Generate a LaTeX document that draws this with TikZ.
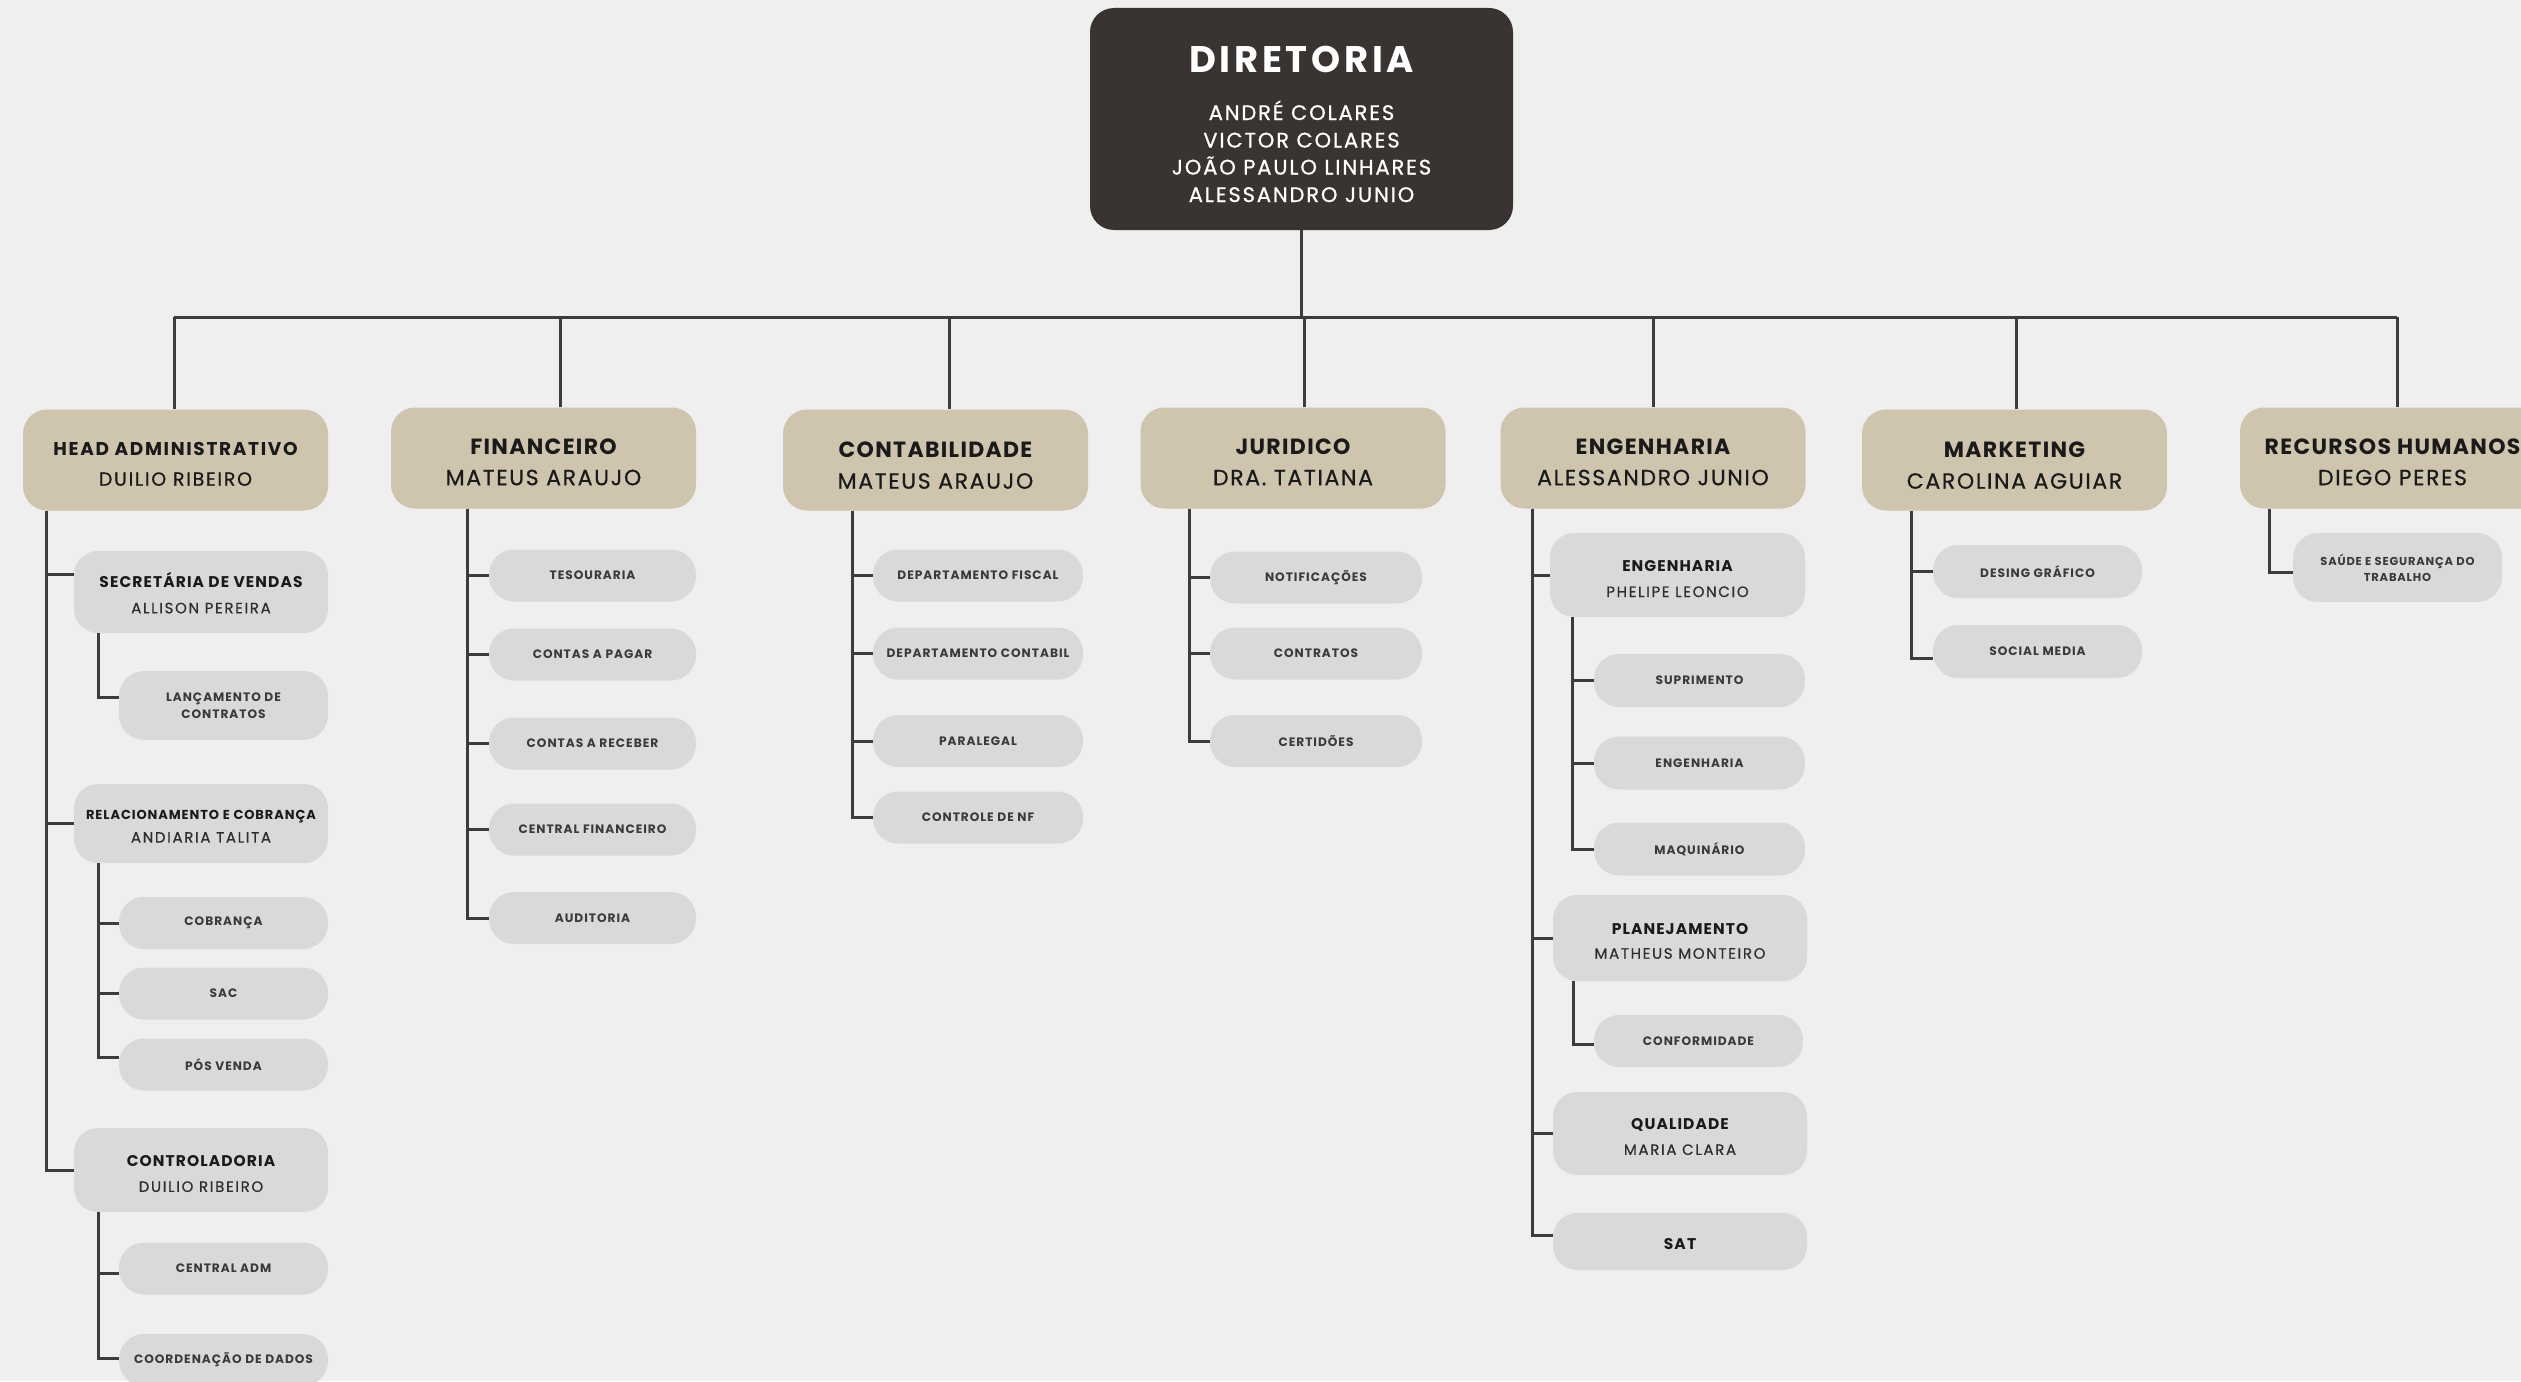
\documentclass[tikz,border=0pt]{standalone}
\usepackage{fontspec}
\setmainfont{Poppins}[LetterSpace=4]
\definecolor{bgc}{HTML}{EFEFEF}
\definecolor{dirc}{HTML}{393432}
\definecolor{tanc}{HTML}{CFC4AE}
\definecolor{grc}{HTML}{D9D9D9}
\definecolor{linec}{HTML}{3C3C3C}
\definecolor{txtc}{HTML}{1A1A1A}
\definecolor{subc}{HTML}{2E2E2E}
\definecolor{leafc}{HTML}{3A3A3A}
% text placed at a baseline, shifted from the centre of a named box (positive = up)
\newcommand\ocTxt[4]{\node[#1,anchor=base,inner sep=0pt] at ([yshift=#3]#2.center) {#4};}
\begin{document}
\begin{tikzpicture}[x=1pt,y=-1pt,
  conn/.style={draw=linec,line width=3pt},
  dirbox/.style={fill=dirc,minimum width=423pt,minimum height=222pt,
    rounded corners=24pt,inner sep=0pt},
  headbox/.style={fill=tanc,minimum width=305pt,minimum height=101pt,
    rounded corners=24pt,inner sep=0pt},
  subbox/.style={fill=grc,minimum width=254pt,rounded corners=24pt,inner sep=0pt},
  leafbox/.style={fill=grc,text=leafc,minimum width=209pt,minimum height=52pt,
    rounded corners=25pt,inner sep=0pt,align=center,
    font=\fontsize{12.2}{17}\selectfont\bfseries\addfontfeature{LetterSpace=8}},
  dt/.style={text=white,font=\fontsize{37}{37}\selectfont\bfseries\addfontfeature{LetterSpace=10}},
  dn/.style={text=white,font=\fontsize{21}{21}\selectfont\addfontfeature{LetterSpace=9,FakeBold=0.8}},
  ht/.style={text=txtc,font=\fontsize{22}{22}\selectfont\bfseries\addfontfeature{LetterSpace=6}},
  hn/.style={text=txtc,font=\fontsize{22}{22}\selectfont\addfontfeature{LetterSpace=7.5,FakeBold=0.6}},
  hta/.style={text=txtc,font=\fontsize{18.5}{18.5}\selectfont\bfseries\addfontfeature{LetterSpace=9}},
  hna/.style={text=txtc,font=\fontsize{19}{19}\selectfont\addfontfeature{LetterSpace=9,FakeBold=0.6}},
  st/.style={text=txtc,font=\fontsize{15.5}{15.5}\selectfont\bfseries\addfontfeature{LetterSpace=7}},
  sts/.style={text=txtc,font=\fontsize{13}{13}\selectfont\bfseries\addfontfeature{LetterSpace=7}},
  sn/.style={text=subc,font=\fontsize{15}{15}\selectfont\addfontfeature{LetterSpace=11,FakeBold=0.6}},
]
\fill[bgc] (0,0) rectangle (2521,1381);
\useasboundingbox (0,0) rectangle (2521,1381);
\clip (0,0) rectangle (2521,1381);

% ---------------- boxes
\node[dirbox] (dir) at (1301.5,119) {};
\node[headbox] (hA) at (175.5,460) {};
\node[headbox] (hF) at (543.5,458) {};
\node[headbox] (hC) at (935.5,460) {};
\node[headbox] (hJ) at (1293,458) {};
\node[headbox] (hE) at (1653,458) {};
\node[headbox] (hM) at (2014.5,460) {};
\node[headbox] (hR) at (2392.5,458) {};

% HEAD ADMINISTRATIVO
\node[subbox,minimum height=82pt] (sec) at (201,592) {};
\node[leafbox,minimum height=69pt] (lanc) at (223.5,705.5) {LANÇAMENTO DE\\CONTRATOS};
\node[subbox,minimum height=79pt] (rel) at (201,823.5) {};
\node[leafbox] (cob) at (223.5,923) {COBRANÇA};
\node[leafbox] (sac) at (223.5,993.5) {SAC};
\node[leafbox] (pos) at (223.5,1064.5) {PÓS VENDA};
\node[subbox,minimum height=84pt] (ctrl) at (201,1170) {};
\node[leafbox] (cadm) at (223.5,1268.5) {CENTRAL ADM};
\node[leafbox] (coord) at (223.5,1360) {COORDENAÇÃO DE DADOS};

% FINANCEIRO
\node[leafbox,minimum width=207pt] (tes) at (592.5,575.5) {TESOURARIA};
\node[leafbox,minimum width=207pt] (cpag) at (592.5,654.5) {CONTAS A PAGAR};
\node[leafbox,minimum width=207pt] (crec) at (592.5,743.5) {CONTAS A RECEBER};
\node[leafbox,minimum width=207pt] (cfin) at (592.5,829.5) {CENTRAL FINANCEIRO};
\node[leafbox,minimum width=207pt] (aud) at (592.5,918) {AUDITORIA};

% CONTABILIDADE
\node[leafbox,minimum width=210pt] (fisc) at (978,575.5) {DEPARTAMENTO FISCAL};
\node[leafbox,minimum width=210pt] (ctb) at (978,653.5) {DEPARTAMENTO CONTABIL};
\node[leafbox,minimum width=210pt] (paral) at (978,741) {PARALEGAL};
\node[leafbox,minimum width=210pt] (nf) at (978,817.5) {CONTROLE DE NF};

% JURIDICO
\node[leafbox,minimum width=212pt] (notif) at (1316,577.5) {NOTIFICAÇÕES};
\node[leafbox,minimum width=212pt] (contr) at (1316,653.5) {CONTRATOS};
\node[leafbox,minimum width=212pt] (cert) at (1316,741) {CERTIDÕES};

% ENGENHARIA
\node[subbox,minimum width=255pt,minimum height=84pt] (ephe) at (1677.5,575) {};
\node[leafbox,minimum width=211pt,minimum height=53pt] (supr) at (1699.5,680.5) {SUPRIMENTO};
\node[leafbox,minimum width=211pt,minimum height=53pt] (engl) at (1699.5,763) {ENGENHARIA};
\node[leafbox,minimum width=211pt,minimum height=53pt] (maq) at (1699.5,849) {MAQUINÁRIO};
\node[subbox,minimum height=86pt] (plan) at (1680,938) {};
\node[leafbox] (conf) at (1698.5,1041) {CONFORMIDADE};
\node[subbox,minimum height=83pt] (qual) at (1680,1133.5) {};
\node[subbox,minimum height=57pt] (sat) at (1680,1241.5) {};

% MARKETING
\node[leafbox,minimum width=209pt,minimum height=53pt] (desg) at (2037.5,571.5) {DESING GRÁFICO};
\node[leafbox,minimum width=209pt,minimum height=53pt] (soc) at (2037.5,651.5) {SOCIAL MEDIA};

% RECURSOS HUMANOS
\node[leafbox,minimum height=69pt,font=\fontsize{11.5}{16}\selectfont\bfseries\addfontfeature{LetterSpace=7}] (saude) at (2397.5,567.5) {SAÚDE E SEGURANÇA DO\\TRABALHO};

% ---------------- texts of the boxes
\ocTxt{dt}{dir}{47pt}{DIRETORIA}
\ocTxt{dn}{dir}{-1pt}{ANDRÉ COLARES}
\ocTxt{dn}{dir}{-28.5pt}{VICTOR COLARES}
\ocTxt{dn}{dir}{-55.5pt}{JOÃO PAULO LINHARES}
\ocTxt{dn}{dir}{-83pt}{ALESSANDRO JUNIO}

\ocTxt{hta}{hA}{5pt}{HEAD ADMINISTRATIVO}
\ocTxt{hna}{hA}{-25.7pt}{DUILIO RIBEIRO}
\ocTxt{ht}{hF}{3.3pt}{FINANCEIRO}
\ocTxt{hn}{hF}{-27.2pt}{MATEUS ARAUJO}
\ocTxt{ht}{hC}{2.3pt}{CONTABILIDADE}
\ocTxt{hn}{hC}{-28.7pt}{MATEUS ARAUJO}
\ocTxt{ht}{hJ}{3.3pt}{JURIDICO}
\ocTxt{hn}{hJ}{-27.2pt}{DRA. TATIANA}
\ocTxt{ht}{hE}{3.3pt}{ENGENHARIA}
\ocTxt{hn}{hE}{-27.2pt}{ALESSANDRO JUNIO}
\ocTxt{ht}{hM}{2.3pt}{MARKETING}
\ocTxt{hn}{hM}{-28.7pt}{CAROLINA AGUIAR}
\ocTxt{ht}{hR}{3.3pt}{RECURSOS HUMANOS}
\ocTxt{hn}{hR}{-27.2pt}{DIEGO PERES}

\ocTxt{st}{sec}{4.6pt}{SECRETÁRIA DE VENDAS}
\ocTxt{sn}{sec}{-21.3pt}{ALLISON PEREIRA}
\ocTxt{sts}{rel}{3.9pt}{RELACIONAMENTO E COBRANÇA}
\ocTxt{sn}{rel}{-19.1pt}{ANDIARIA TALITA}
\ocTxt{st}{ctrl}{3.6pt}{CONTROLADORIA}
\ocTxt{sn}{ctrl}{-21.9pt}{DUILIO RIBEIRO}
\ocTxt{st}{ephe}{3.6pt}{ENGENHARIA}
\ocTxt{sn}{ephe}{-22pt}{PHELIPE LEONCIO}
\ocTxt{st}{plan}{3.3pt}{PLANEJAMENTO}
\ocTxt{sn}{plan}{-20.7pt}{MATHEUS MONTEIRO}
\ocTxt{st}{qual}{4.2pt}{QUALIDADE}
\ocTxt{sn}{qual}{-21.4pt}{MARIA CLARA}
\ocTxt{st}{sat}{-8.3pt}{SAT}

% ---------------- connectors
\coordinate (busL) at (174,317);
\coordinate (busR) at (2397,317);
\draw[conn] (dir.south) -- (dir.south |- busL);
\draw[conn] (busL) -- (busR);
\draw[conn] ([xshift=-1.5pt]hA.north |- busL) -- ([xshift=-1.5pt]hA.north);
\draw[conn] ([xshift=16.5pt]hF.north |- busL) -- ([xshift=16.5pt]hF.north);
\draw[conn] ([xshift=13.5pt]hC.north |- busL) -- ([xshift=13.5pt]hC.north);
\draw[conn] ([xshift=11pt]hJ.north |- busL) -- ([xshift=11pt]hJ.north);
\draw[conn] (hE.north |- busL) -- (hE.north);
\draw[conn] ([xshift=1.5pt]hM.north |- busL) -- ([xshift=1.5pt]hM.north);
\draw[conn] ([xshift=4.5pt]hR.north |- busL) -- ([xshift=4.5pt]hR.north);

\draw[conn] ([xshift=24pt]hA.south west) |- ([yshift=18pt]sec.west);
\draw[conn] ([xshift=24pt]hA.south west) |- (rel.west);
\draw[conn] ([xshift=24pt]hA.south west) |- (ctrl.west);
\draw[conn] ([xshift=25pt]sec.south west) |- ([yshift=8pt]lanc.west);
\draw[conn] ([xshift=25pt]rel.south west) |- (cob.west);
\draw[conn] ([xshift=25pt]rel.south west) |- (sac.west);
\draw[conn] ([xshift=25pt]rel.south west) |- ([yshift=7pt]pos.west);
\draw[conn] ([xshift=25pt]ctrl.south west) |- ([yshift=-5pt]cadm.west);
\draw[conn] ([xshift=25pt]ctrl.south west) |- ([yshift=2pt]coord.west);

\foreach \n in {tes,cpag,crec,cfin,aud}
  \draw[conn] ([xshift=77pt]hF.south west) |- (\n.west);
\foreach \n in {fisc,ctb,paral,nf}
  \draw[conn] ([xshift=70pt]hC.south west) |- (\n.west);
\foreach \n in {notif,contr,cert}
  \draw[conn] ([xshift=49pt]hJ.south west) |- (\n.west);

\draw[conn] ([xshift=32pt]hE.south west) |- (ephe.west);
\draw[conn] ([xshift=32pt]hE.south west) |- (plan.west);
\draw[conn] ([xshift=32pt]hE.south west) |- (qual.west);
\draw[conn] ([xshift=32pt]hE.south west) |- ([yshift=6pt]sat.west);
\foreach \n in {supr,engl,maq}
  \draw[conn] ([xshift=23pt]ephe.south west) |- (\n.west);
\draw[conn] ([xshift=21pt]plan.south west) |- ([yshift=-3pt]conf.west);

\draw[conn] ([xshift=50pt]hM.south west) |- (desg.west);
\draw[conn] ([xshift=50pt]hM.south west) |- ([yshift=-7pt]soc.west);
\draw[conn] ([xshift=30pt]hR.south west) |- ([yshift=-5pt]saude.west);
\end{tikzpicture}
\end{document}
